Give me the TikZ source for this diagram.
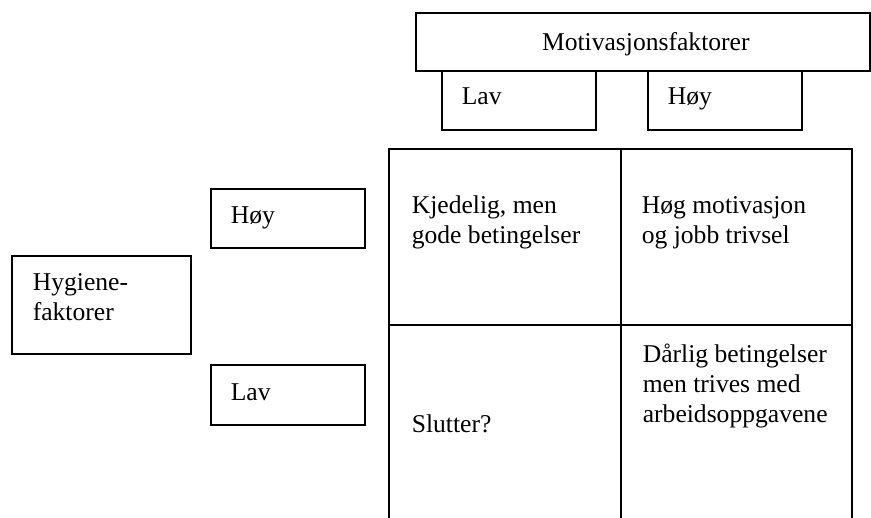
\documentclass[tikz,border=0pt]{standalone}
\usepackage{fontspec}
\setmainfont{Liberation Serif}
\usetikzlibrary{positioning}

\begin{document}
\begin{tikzpicture}[x=0.5pt, y=-0.5pt, line width=0.8pt,
    box/.style={draw, rectangle, anchor=north west, inner sep=0pt},
    txt/.style={anchor=base west, align=left, inner sep=0pt, font=\fontsize{12.8}{15}\selectfont}]
    \useasboundingbox (0,0) rectangle (871,518);

    % motivasjon (top)
    \node[box, minimum width=227pt, minimum height=29pt] (motiv) at (415,12) {};
    \node[txt, anchor=base] (motivt) at ([shift={(3,9)}]motiv.center) {Motivasjonsfaktorer};
    \node[box, minimum width=77pt, minimum height=29.5pt] (mlav) at (441,70) {};
    \node[box, minimum width=77pt, minimum height=29.5pt] (mhoy) at (647,70) {};
    \node[txt] (mlavt) at ([shift={(20,35)}]mlav.north west) {Lav};
    \node[txt] (mhoyt) at ([shift={(20,35)}]mhoy.north west) {Høy};

    % hygiene (left)
    \node[box, minimum width=89.5pt, minimum height=49pt] (hyg) at (11,255) {};
    \node[box, minimum width=77pt, minimum height=29.5pt] (hhoy) at (210,188) {};
    \node[box, minimum width=77pt, minimum height=30pt] (hlav) at (210,364) {};
    \node[txt] (hygt) at ([shift={(21,65)}]hyg.north west) {Hygiene-\\faktorer};
    \node[txt] (hhoyt) at ([shift={(20,35)}]hhoy.north west) {Høy};
    \node[txt] (hlavt) at ([shift={(20,36)}]hlav.north west) {Lav};

    % matrix
    \coordinate (gtl) at (389,149);
    \coordinate (gtm) at (621,149);
    \coordinate (gtr) at (852,149);
    \coordinate (gml) at (389,325);
    \coordinate (gmr) at (852,325);
    \draw (gtl |- 0,518) -- (gtl) -- (gtr) -- (gtr |- 0,518);
    \draw (gtm) -- (gtm |- 0,518);
    \draw (gml) -- (gmr);

    \node[txt] (c11) at ([shift={(22,94)}]gtl) {Kjedelig, men\\gode betingelser};
    \node[txt] (c12) at ([shift={(20,94)}]gtm) {Høg motivasjon\\og jobb trivsel};
    \node[txt] (c21) at ([shift={(22,107)}]gml) {Slutter?};
    \node[txt] (c22) at ([shift={(21,97)}]gml -| gtm) {Dårlig betingelser\\men trives med\\arbeidsoppgavene};
\end{tikzpicture}
\end{document}
